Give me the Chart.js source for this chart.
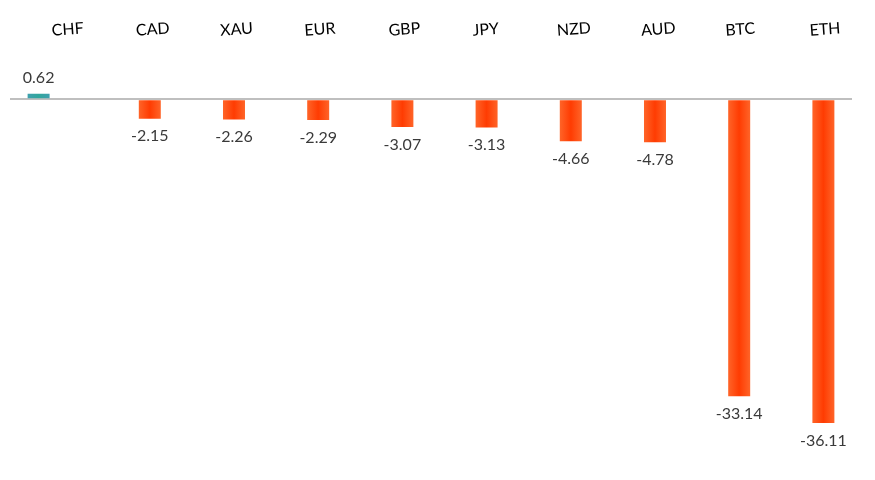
<!DOCTYPE html>
<html>
<head>
<meta charset="utf-8">
<script src="https://cdn.jsdelivr.net/npm/chart.js@4"></script>
<style>
  body { margin: 0; background: #fff; }
  #wrap { width: 875px; height: 480px; }
</style>
</head>
<body>
<div id="wrap"><canvas id="chart" width="875" height="480"></canvas></div>
<script>
const currencies = ['CHF', 'CAD', 'XAU', 'EUR', 'GBP', 'JPY', 'NZD', 'AUD', 'BTC', 'ETH'];
const changes = [0.62, -2.15, -2.26, -2.29, -3.07, -3.13, -4.66, -4.78, -33.14, -36.11];

// positives and negatives sit in separate series, like the original sheet
const gains = changes.map(v => (v >= 0 ? v : null));
const losses = changes.map(v => (v < 0 ? v : null));

// paint each bar with a soft left-right gradient
const barShade = {
    id: 'barShade',
    beforeDatasetsDraw(chart) {
        const ctx = chart.ctx;
        chart.data.datasets.forEach((ds, di) => {
            const meta = chart.getDatasetMeta(di);
            meta.data.forEach(bar => {
                if (bar.width == null || isNaN(bar.x)) return;
                const g = ctx.createLinearGradient(bar.x - bar.width / 2, 0, bar.x + bar.width / 2, 0);
                g.addColorStop(0, ds.edgeColor);
                g.addColorStop(0.5, ds.midColor);
                g.addColorStop(1, ds.edgeColor);
                bar.options.backgroundColor = g;
            });
        });
    }
};

// value labels above / below the bars
const valueLabels = {
    id: 'valueLabels',
    afterDatasetsDraw(chart) {
        const ctx = chart.ctx;
        ctx.save();
        ctx.font = '16px Lato';
        ctx.fillStyle = '#3a3a3a';
        ctx.textAlign = 'center';
        ctx.textBaseline = 'middle';
        chart.data.datasets.forEach((ds, di) => {
            chart.getDatasetMeta(di).data.forEach((bar, i) => {
                const v = ds.data[i];
                if (v == null) return;
                const y = v < 0 ? bar.y + 17.5 : bar.y - 16;
                ctx.fillText(v.toFixed(2), bar.x, y);
            });
        });
        ctx.restore();
    }
};

new Chart(document.getElementById('chart'), {
    type: 'bar',
    data: {
        labels: currencies,
        datasets: [
            {
                data: gains,
                backgroundColor: () => '#34A3A3',
                edgeColor: '#3FA0AE',
                midColor: '#30A69C',
                barPercentage: 0.815,
                categoryPercentage: 0.641
            },
            {
                data: losses,
                backgroundColor: () => '#FF4A10',
                edgeColor: '#FF6428',
                midColor: '#FF3C02',
                barPercentage: 0.815,
                categoryPercentage: 0.641
            }
        ]
    },
    options: {
        responsive: false,
        animation: false,
        layout: { padding: { left: 10, right: 23, top: 4, bottom: 15 } },
        plugins: { legend: { display: false }, tooltip: { enabled: false } },
        scales: {
            x: {
                position: 'top',
                grid: { display: false, drawTicks: false },
                border: { display: false },
                ticks: {
                    color: '#000',
                    font: { family: 'Lato', size: 16 },
                    minRotation: 4,
                    maxRotation: 4,
                    padding: 14.5,
                    labelOffset: 1
                }
            },
            y: {
                min: -40.8,
                max: 5,
                grid: {
                    drawTicks: false,
                    lineWidth: 2,
                    color: c => (c.tick && c.tick.value === 0 ? '#BFBFBF' : 'rgba(0,0,0,0)')
                },
                border: { display: false },
                ticks: { display: false, stepSize: 5 }
            }
        }
    },
    plugins: [barShade, valueLabels]
});
</script>
</body>
</html>
